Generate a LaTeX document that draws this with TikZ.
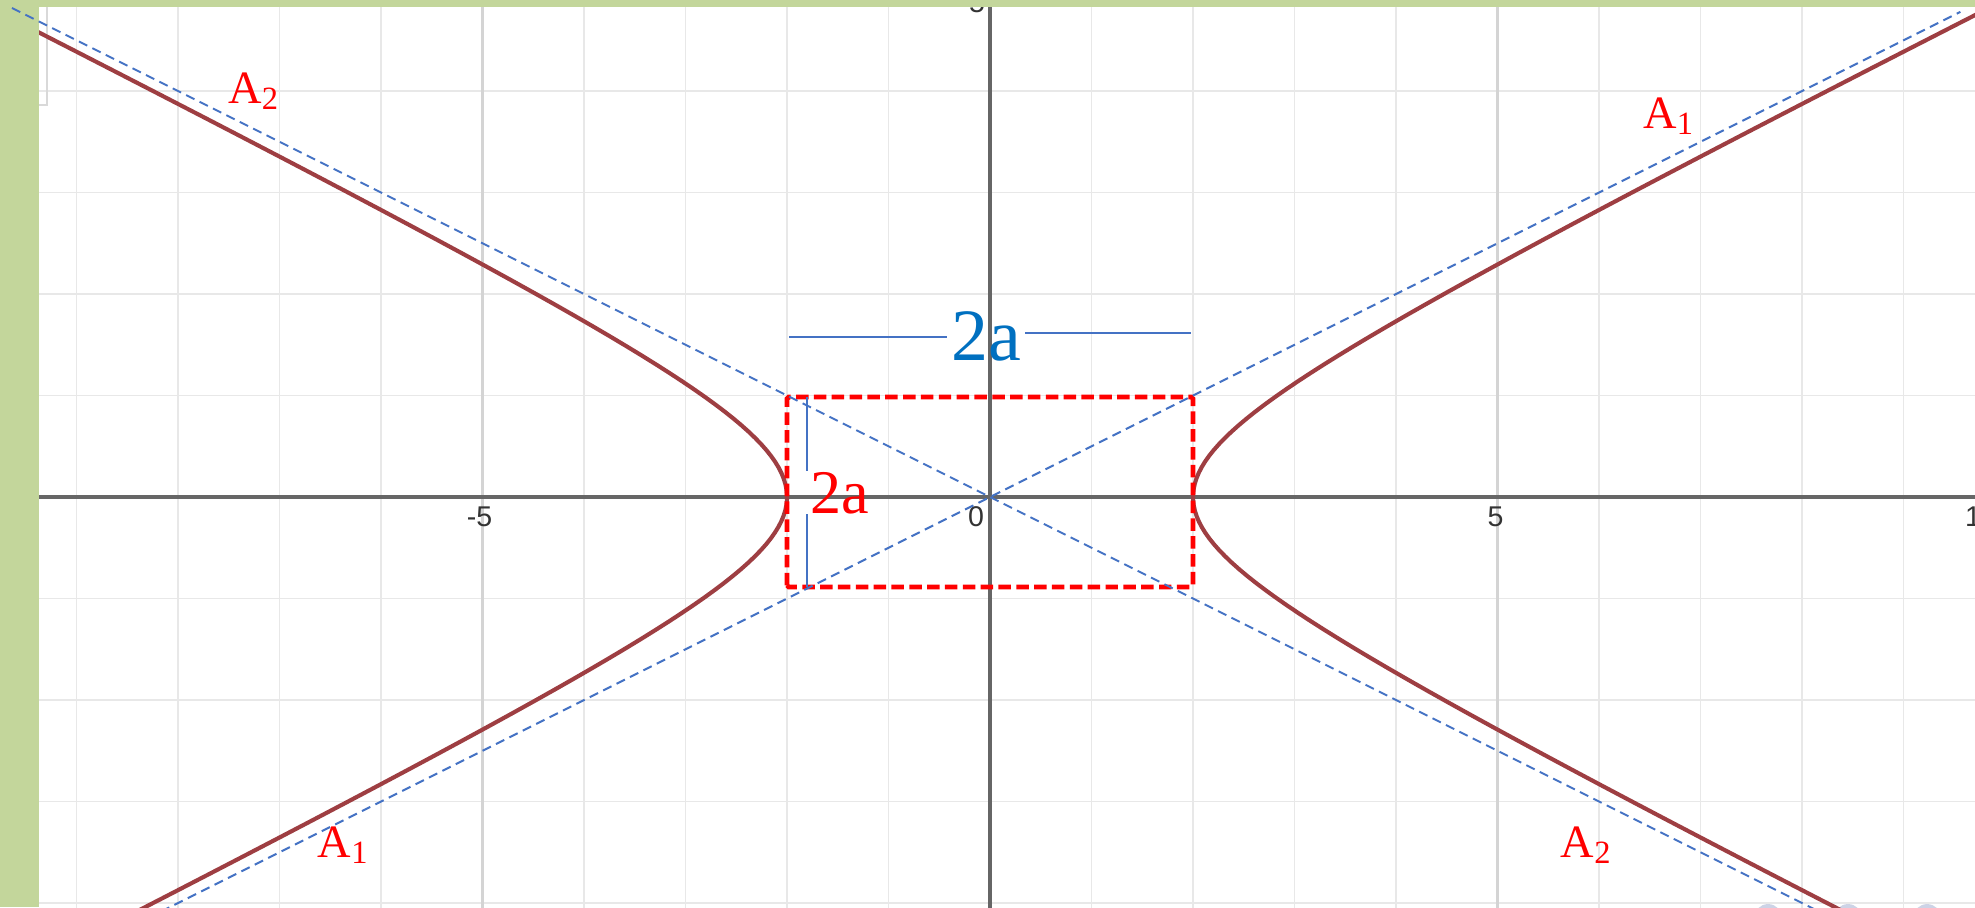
\documentclass[tikz,border=0pt]{standalone}
\usepackage{fontspec}
\setmainfont{Liberation Serif}
\newfontfamily\axisfont{Liberation Sans}
\definecolor{slidegreen}{RGB}{195,214,155}
\definecolor{curvered}{RGB}{158,62,66}
\definecolor{asymblue}{RGB}{68,114,196}
\definecolor{labelblue}{RGB}{0,112,192}
\definecolor{zoomgray}{RGB}{205,211,230}

\begin{document}
\begin{tikzpicture}[x=1cm,y=1cm,
  minorgrid/.style={draw=black!9,line width=0.5pt},
  majorgrid/.style={draw=black!17,line width=0.6pt},
  axisline/.style={draw=black!60,line width=0.9pt},
  ticklab/.style={font=\axisfont\fontsize{8}{9}\selectfont,text=black!80,inner sep=0pt},
  curve/.style={draw=curvered,line width=1.15pt},
  asym/.style={draw=asymblue,line width=0.55pt,dash pattern=on 2.6pt off 1.6pt},
  boxdash/.style={draw=red,line width=1.35pt,dash pattern=on 3.5pt off 1.5pt,rounded corners=0.5pt},
  dimline/.style={draw=asymblue,line width=0.4pt},
  lab/.style={text=red,font=\fontsize{13}{15}\selectfont,inner sep=0pt,anchor=base west}]
\useasboundingbox (-9.754,-4.039) rectangle (9.704,4.897);
\clip (-9.754,-4.039) rectangle (9.704,4.897);
\fill[white] (-9.754,-4.039) rectangle (9.704,4.897);
% graph paper
\foreach \gx in {-9,...,9} \draw[minorgrid] (\gx,-4.1) -- (\gx,4.9);
\foreach \gy in {-4,...,4} \draw[minorgrid] (-9.8,\gy) -- (9.8,\gy);
\foreach \gx in {-5,5} \draw[majorgrid] (\gx,-4.1) -- (\gx,4.9);
\draw[axisline] (-9.8,0) -- (9.8,0);
\draw[axisline] (0,-4.1) -- (0,4.9);
\node[ticklab] (tickMinusFive) at (-5.03,-0.197) {-5};
\node[ticklab] (tickZero) at (-0.138,-0.197) {0};
\node[ticklab] (tickFive) at (4.98,-0.197) {5};
\node[ticklab,anchor=west] (tickTen) at (9.6,-0.197) {10};
\node[ticklab] (tickTopFive) at (-0.128,4.867) {5};
\draw[black!15,line width=0.5pt] (-9.294,4.83) -- (-9.294,3.862) -- (-9.37,3.862);
\foreach \bx in {7.665,8.453,9.232} \fill[zoomgray] (\bx,-4.148) circle (0.138);
% the two branches
\begin{scope}
\clip (-9.37,-4.039) rectangle (9.704,4.828);
\draw[curve] plot[domain=-2.35:2.35,samples=90,variable=\t] ({2*cosh(\t)},{sinh(\t)});
\draw[curve] plot[domain=-2.35:2.35,samples=90,variable=\t] ({-2*cosh(\t)},{sinh(\t)});
\end{scope}
% slide frame
\fill[slidegreen] (-9.754,-4.039) rectangle (-9.37,4.897);
\fill[slidegreen] (-9.754,4.828) rectangle (9.704,4.897);
% annotations
\draw[boxdash] (-2,-0.887) rectangle (2,0.985);
\draw[asym] (-9.636,4.818) -- (8.3,-4.15);
\draw[asym] (-8.3,-4.15) -- (9.56,4.78);
\node[text=labelblue,font=\fontsize{20.7}{24}\selectfont,inner xsep=1pt,inner ysep=0pt,anchor=base west] (horizLab) at (-0.424,1.35) {2a};
\coordinate (hLeft) at (-1.98,1.576);
\coordinate (hRight) at (1.98,1.616);
\draw[dimline] (hLeft) -- (hLeft -| horizLab.west);
\draw[dimline] (horizLab.east |- hRight) -- (hRight);
\node[text=red,font=\fontsize{17.4}{20}\selectfont,inner sep=0pt,anchor=base west] (vertLab) at (-1.773,-0.158) {2a};
\coordinate (vTop) at (-1.803,0.985);
\coordinate (vBot) at (-1.803,-0.887);
\draw[dimline] (vTop) -- (vTop |- vertLab.north);
\draw[dimline] (vTop |- vertLab.south) -- (vBot);
\node[lab] (aTwoTop) at (-7.51,3.88) {A\textsubscript{2}};
\node[lab] (aOneTop) at (6.43,3.635) {A\textsubscript{1}};
\node[lab] (aOneBot) at (-6.63,-3.547) {A\textsubscript{1}};
\node[lab] (aTwoBot) at (5.616,-3.547) {A\textsubscript{2}};
\end{tikzpicture}
\end{document}
